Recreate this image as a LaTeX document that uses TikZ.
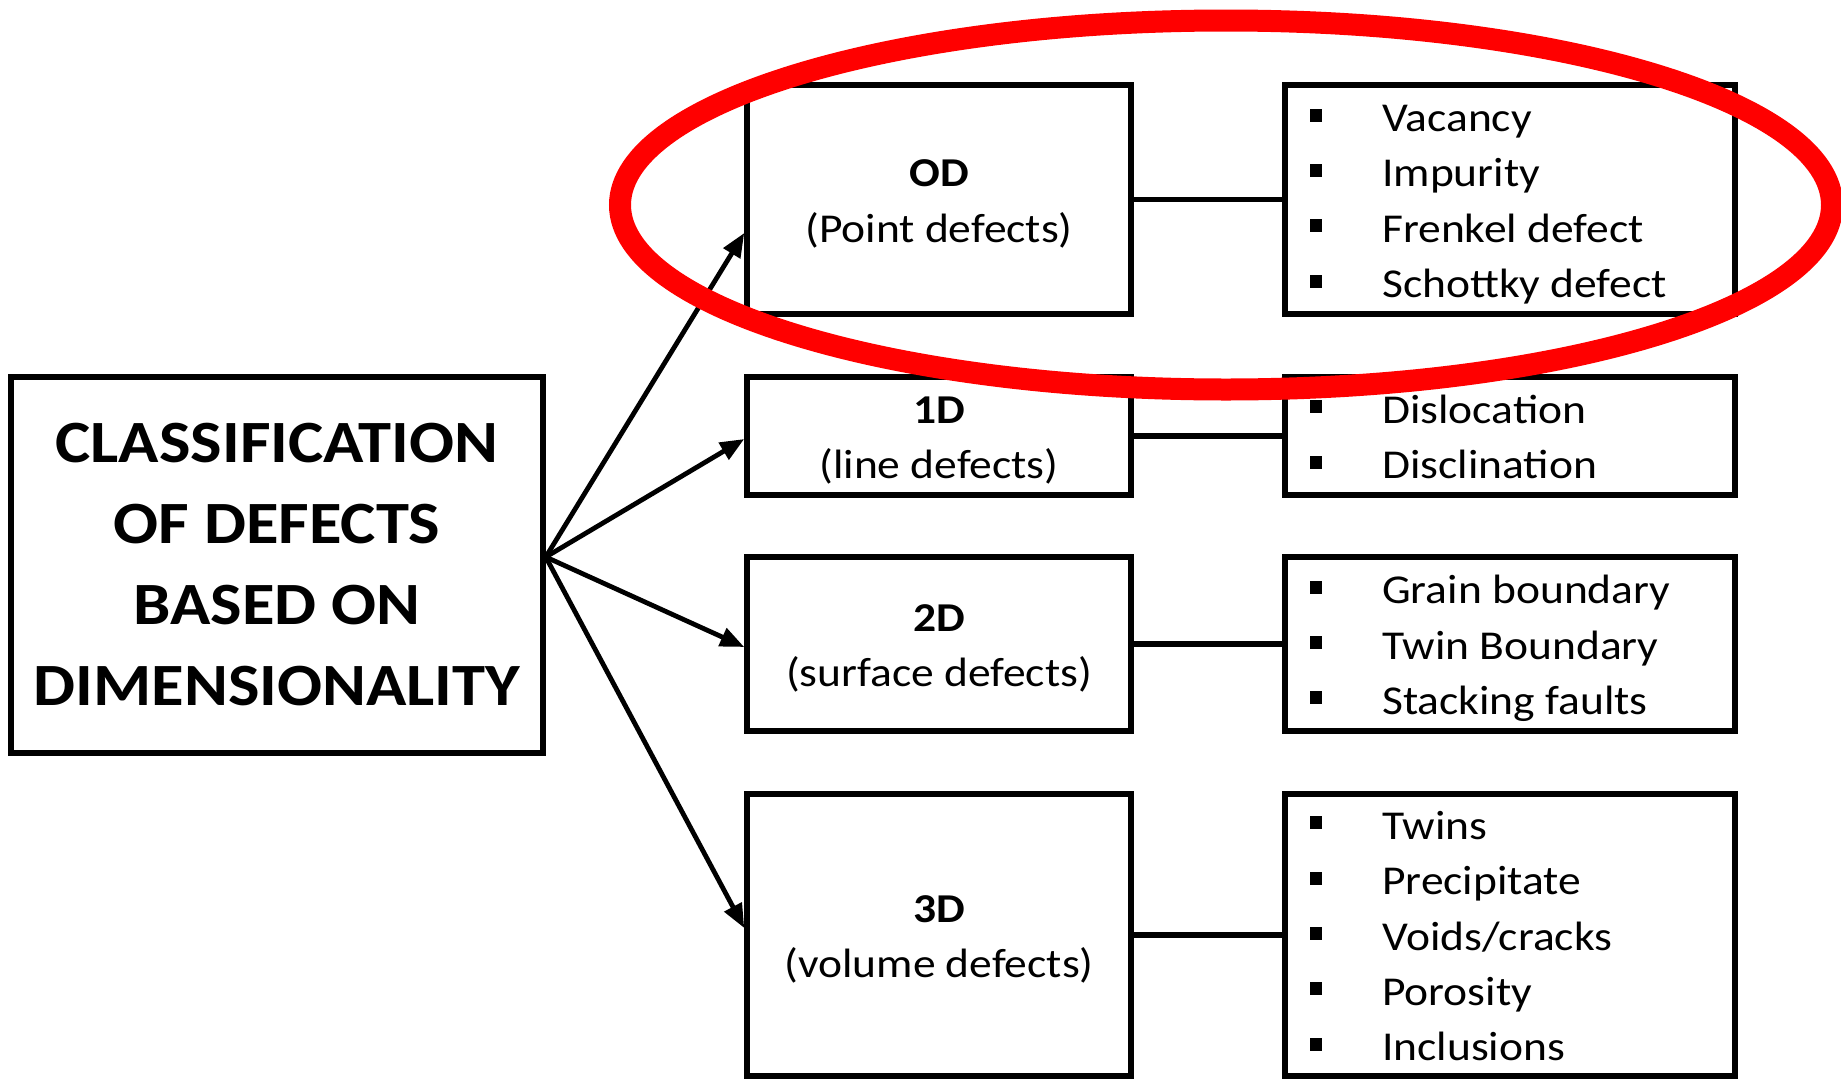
\documentclass[tikz,border=0pt]{standalone}
\usepackage{fontspec}
\setmainfont{Carlito}[FakeStretch=1.11]
\usetikzlibrary{arrows.meta}

% square bullet used in the item lists
\newcommand\sqbul{\raisebox{10pt}{\rule{12pt}{13pt}}}

\begin{document}
\begin{tikzpicture}[x=1pt,y=-1pt,
  box/.style={draw=black, line width=5.5pt, inner sep=0pt, rectangle},
  label/.style={inner sep=0pt, font=\fontsize{41}{55.3}\selectfont},
  items/.style={inner sep=0pt, anchor=west, font=\fontsize{41}{55.3}\selectfont},
  titletext/.style={inner sep=0pt, font=\fontsize{60}{81}\selectfont\bfseries},
  fan/.style={line width=4.8pt, -{Triangle[length=24pt,width=19pt]}},
  link/.style={line width=5.5pt},
  highlight/.style={draw=red, line width=22pt}]

\useasboundingbox (0,0) rectangle (1841,1079);

% main classification box
\node[box, minimum width=532pt, minimum height=376pt] (main) at (277,565) {};
\node[titletext] (title) at (277,568)
  {\begin{tabular}{@{}c@{}}CLASSIFICATION\\OF DEFECTS\\BASED ON\\DIMENSIONALITY\end{tabular}};

% dimension boxes
\node[box, minimum width=384pt, minimum height=229pt] (c0) at (939,199.5) {};
\node[box, minimum width=384pt, minimum height=118pt] (c1) at (939,436) {};
\node[box, minimum width=384pt, minimum height=174pt] (c2) at (939,644) {};
\node[box, minimum width=384pt, minimum height=282pt] (c3) at (939,935) {};

\node[label] (t0) at (939,203.5) {\begin{tabular}{@{}c@{}}\textbf{OD}\\(Point defects)\end{tabular}};
\node[label] (t1) at (939,440) {\begin{tabular}{@{}c@{}}\textbf{1D}\\(line defects)\end{tabular}};
\node[label] (t2) at (939,648) {\begin{tabular}{@{}c@{}}\textbf{2D}\\(surface defects)\end{tabular}};
\node[label] (t3) at (939,939) {\begin{tabular}{@{}c@{}}\textbf{3D}\\(volume defects)\end{tabular}};

% example lists
\node[box, minimum width=450pt, minimum height=229pt] (l0) at (1510,199.5) {};
\node[box, minimum width=450pt, minimum height=118pt] (l1) at (1510,436) {};
\node[box, minimum width=450pt, minimum height=174pt] (l2) at (1510,644) {};
\node[box, minimum width=450pt, minimum height=282pt] (l3) at (1510,935) {};

\node[items] (i0) at (1310,203.5) {\begin{tabular}{@{}l@{\hspace{60pt}}l@{}}
  \sqbul & Vacancy\\ \sqbul & Impurity\\ \sqbul & Frenkel defect\\ \sqbul & Schottky defect\end{tabular}};
\node[items] (i1) at (1310,440) {\begin{tabular}{@{}l@{\hspace{60pt}}l@{}}
  \sqbul & Dislocation\\ \sqbul & Disclination\end{tabular}};
\node[items] (i2) at (1310,648) {\begin{tabular}{@{}l@{\hspace{60pt}}l@{}}
  \sqbul & Grain boundary\\ \sqbul & Twin Boundary\\ \sqbul & Stacking faults\end{tabular}};
\node[items] (i3) at (1310,939) {\begin{tabular}{@{}l@{\hspace{60pt}}l@{}}
  \sqbul & Twins\\ \sqbul & Precipitate\\ \sqbul & Voids/cracks\\ \sqbul & Porosity\\ \sqbul & Inclusions\end{tabular}};

% arrows fanning out of the main box
\coordinate (hub) at ([yshift=8pt]main.east);
\draw[fan] (hub) -- ([yshift=-33.5pt]c0.west);
\draw[fan] (hub) -- ([yshift=-3pt]c1.west);
\draw[fan] (hub) -- ([yshift=-3pt]c2.west);
\draw[fan] (hub) -- ([yshift=7pt]c3.west);

% links from each dimension to its examples
\draw[link] (c0.east) -- (l0.west);
\draw[link] (c1.east) -- (l1.west);
\draw[link] (c2.east) -- (l2.west);
\draw[link] (c3.east) -- (l3.west);

% red ring round the point-defect row
\draw[highlight] (1226,205) ellipse [x radius=606pt, y radius=184.5pt];

\end{tikzpicture}
\end{document}
